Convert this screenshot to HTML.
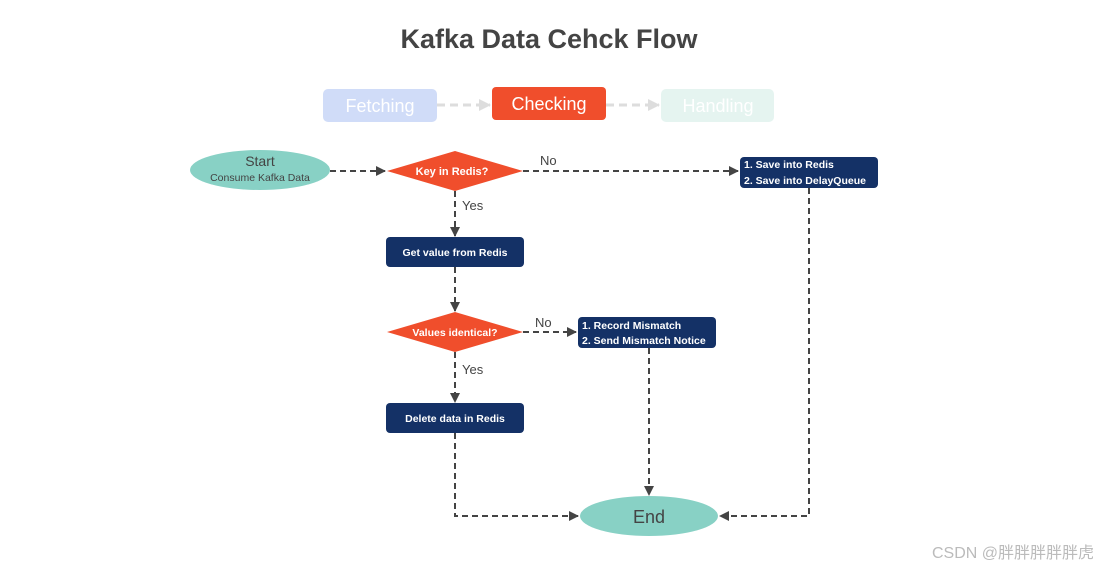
<!DOCTYPE html>
<html><head><meta charset="utf-8"><style>
html,body{margin:0;padding:0;background:#fff;}
svg{display:block;font-family:"Liberation Sans",Arial,sans-serif;}
</style></head><body>
<svg width="1098" height="568" viewBox="0 0 1098 568" xmlns="http://www.w3.org/2000/svg">
<defs>
<marker id="a" markerWidth="10" markerHeight="10" refX="9" refY="5" orient="auto" markerUnits="userSpaceOnUse"><path d="M0,0 L10,5 L0,10 z" fill="#444"/></marker>
<marker id="g" markerWidth="12" markerHeight="12" refX="11" refY="6" orient="auto" markerUnits="userSpaceOnUse"><path d="M0,0 L12,6 L0,12 z" fill="#ddd"/></marker>
</defs>
<text x="549" y="48" text-anchor="middle" font-size="27" font-weight="bold" fill="#444">Kafka Data Cehck Flow</text>

<rect x="323" y="89" width="114" height="33" rx="5" fill="#d0dcf8"/>
<text x="380" y="112" text-anchor="middle" font-size="18" fill="#fff">Fetching</text>
<rect x="492" y="87" width="114" height="33" rx="4" fill="#f04e2c"/>
<text x="549" y="110" text-anchor="middle" font-size="18" fill="#fff">Checking</text>
<rect x="661" y="89" width="113" height="33" rx="5" fill="#e5f4f0"/>
<text x="718" y="112" text-anchor="middle" font-size="18" fill="#fff">Handling</text>
<g stroke="#ddd" stroke-width="3" stroke-dasharray="8,5" fill="none">
<line x1="437" y1="105" x2="490" y2="105" marker-end="url(#g)"/>
<line x1="606" y1="105" x2="659" y2="105" marker-end="url(#g)"/>
</g>

<g stroke="#444" stroke-width="2" stroke-dasharray="6,4" fill="none">
<line x1="330" y1="171" x2="385" y2="171" marker-end="url(#a)"/>
<line x1="523" y1="171" x2="738" y2="171" marker-end="url(#a)"/>
<line x1="455" y1="191" x2="455" y2="236" marker-end="url(#a)"/>
<line x1="455" y1="267" x2="455" y2="311" marker-end="url(#a)"/>
<line x1="523" y1="332" x2="576" y2="332" marker-end="url(#a)"/>
<line x1="455" y1="352" x2="455" y2="402" marker-end="url(#a)"/>
<polyline points="455,433 455,516 578,516" marker-end="url(#a)"/>
<line x1="649" y1="348" x2="649" y2="495" marker-end="url(#a)"/>
<polyline points="809,188 809,516 720,516" marker-end="url(#a)"/>
</g>

<ellipse cx="260" cy="170" rx="70" ry="20" fill="#88d1c5"/>
<text x="260" y="166" text-anchor="middle" font-size="14" fill="#444">Start</text>
<text x="260" y="181" text-anchor="middle" font-size="10.5" fill="#444">Consume Kafka Data</text>

<polygon points="387,171 455,151 523,171 455,191" fill="#f04e2c"/>
<text x="452" y="175" text-anchor="middle" font-size="11" font-weight="bold" fill="#fff">Key in Redis?</text>
<text x="540" y="165" font-size="13" fill="#444">No</text>
<text x="462" y="210" font-size="13" fill="#444">Yes</text>

<rect x="740" y="157" width="138" height="31" rx="4" fill="#143166"/>
<text x="744" y="168" font-size="10.5" font-weight="bold" fill="#fff">1. Save into Redis</text>
<text x="744" y="184" font-size="10.5" font-weight="bold" fill="#fff">2. Save into DelayQueue</text>

<rect x="386" y="237" width="138" height="30" rx="4" fill="#143166"/>
<text x="455" y="256" text-anchor="middle" font-size="10.5" font-weight="bold" fill="#fff">Get value from Redis</text>

<polygon points="387,332 455,312 523,332 455,352" fill="#f04e2c"/>
<text x="455" y="336" text-anchor="middle" font-size="10.5" font-weight="bold" fill="#fff">Values identical?</text>
<text x="535" y="327" font-size="13" fill="#444">No</text>
<text x="462" y="374" font-size="13" fill="#444">Yes</text>

<rect x="578" y="317" width="138" height="31" rx="4" fill="#143166"/>
<text x="582" y="329" font-size="10.5" font-weight="bold" fill="#fff">1. Record Mismatch</text>
<text x="582" y="344" font-size="10.5" font-weight="bold" fill="#fff">2. Send Mismatch Notice</text>

<rect x="386" y="403" width="138" height="30" rx="4" fill="#143166"/>
<text x="455" y="422" text-anchor="middle" font-size="10.5" font-weight="bold" fill="#fff">Delete data in Redis</text>

<ellipse cx="649" cy="516" rx="69" ry="20" fill="#88d1c5"/>
<text x="649" y="523" text-anchor="middle" font-size="18" fill="#444">End</text>

<text x="1094" y="558" text-anchor="end" font-size="16" fill="#bbb" font-family="'Liberation Sans','Noto Sans CJK SC',sans-serif">CSDN @胖胖胖胖胖虎</text>
</svg>
</body></html>
